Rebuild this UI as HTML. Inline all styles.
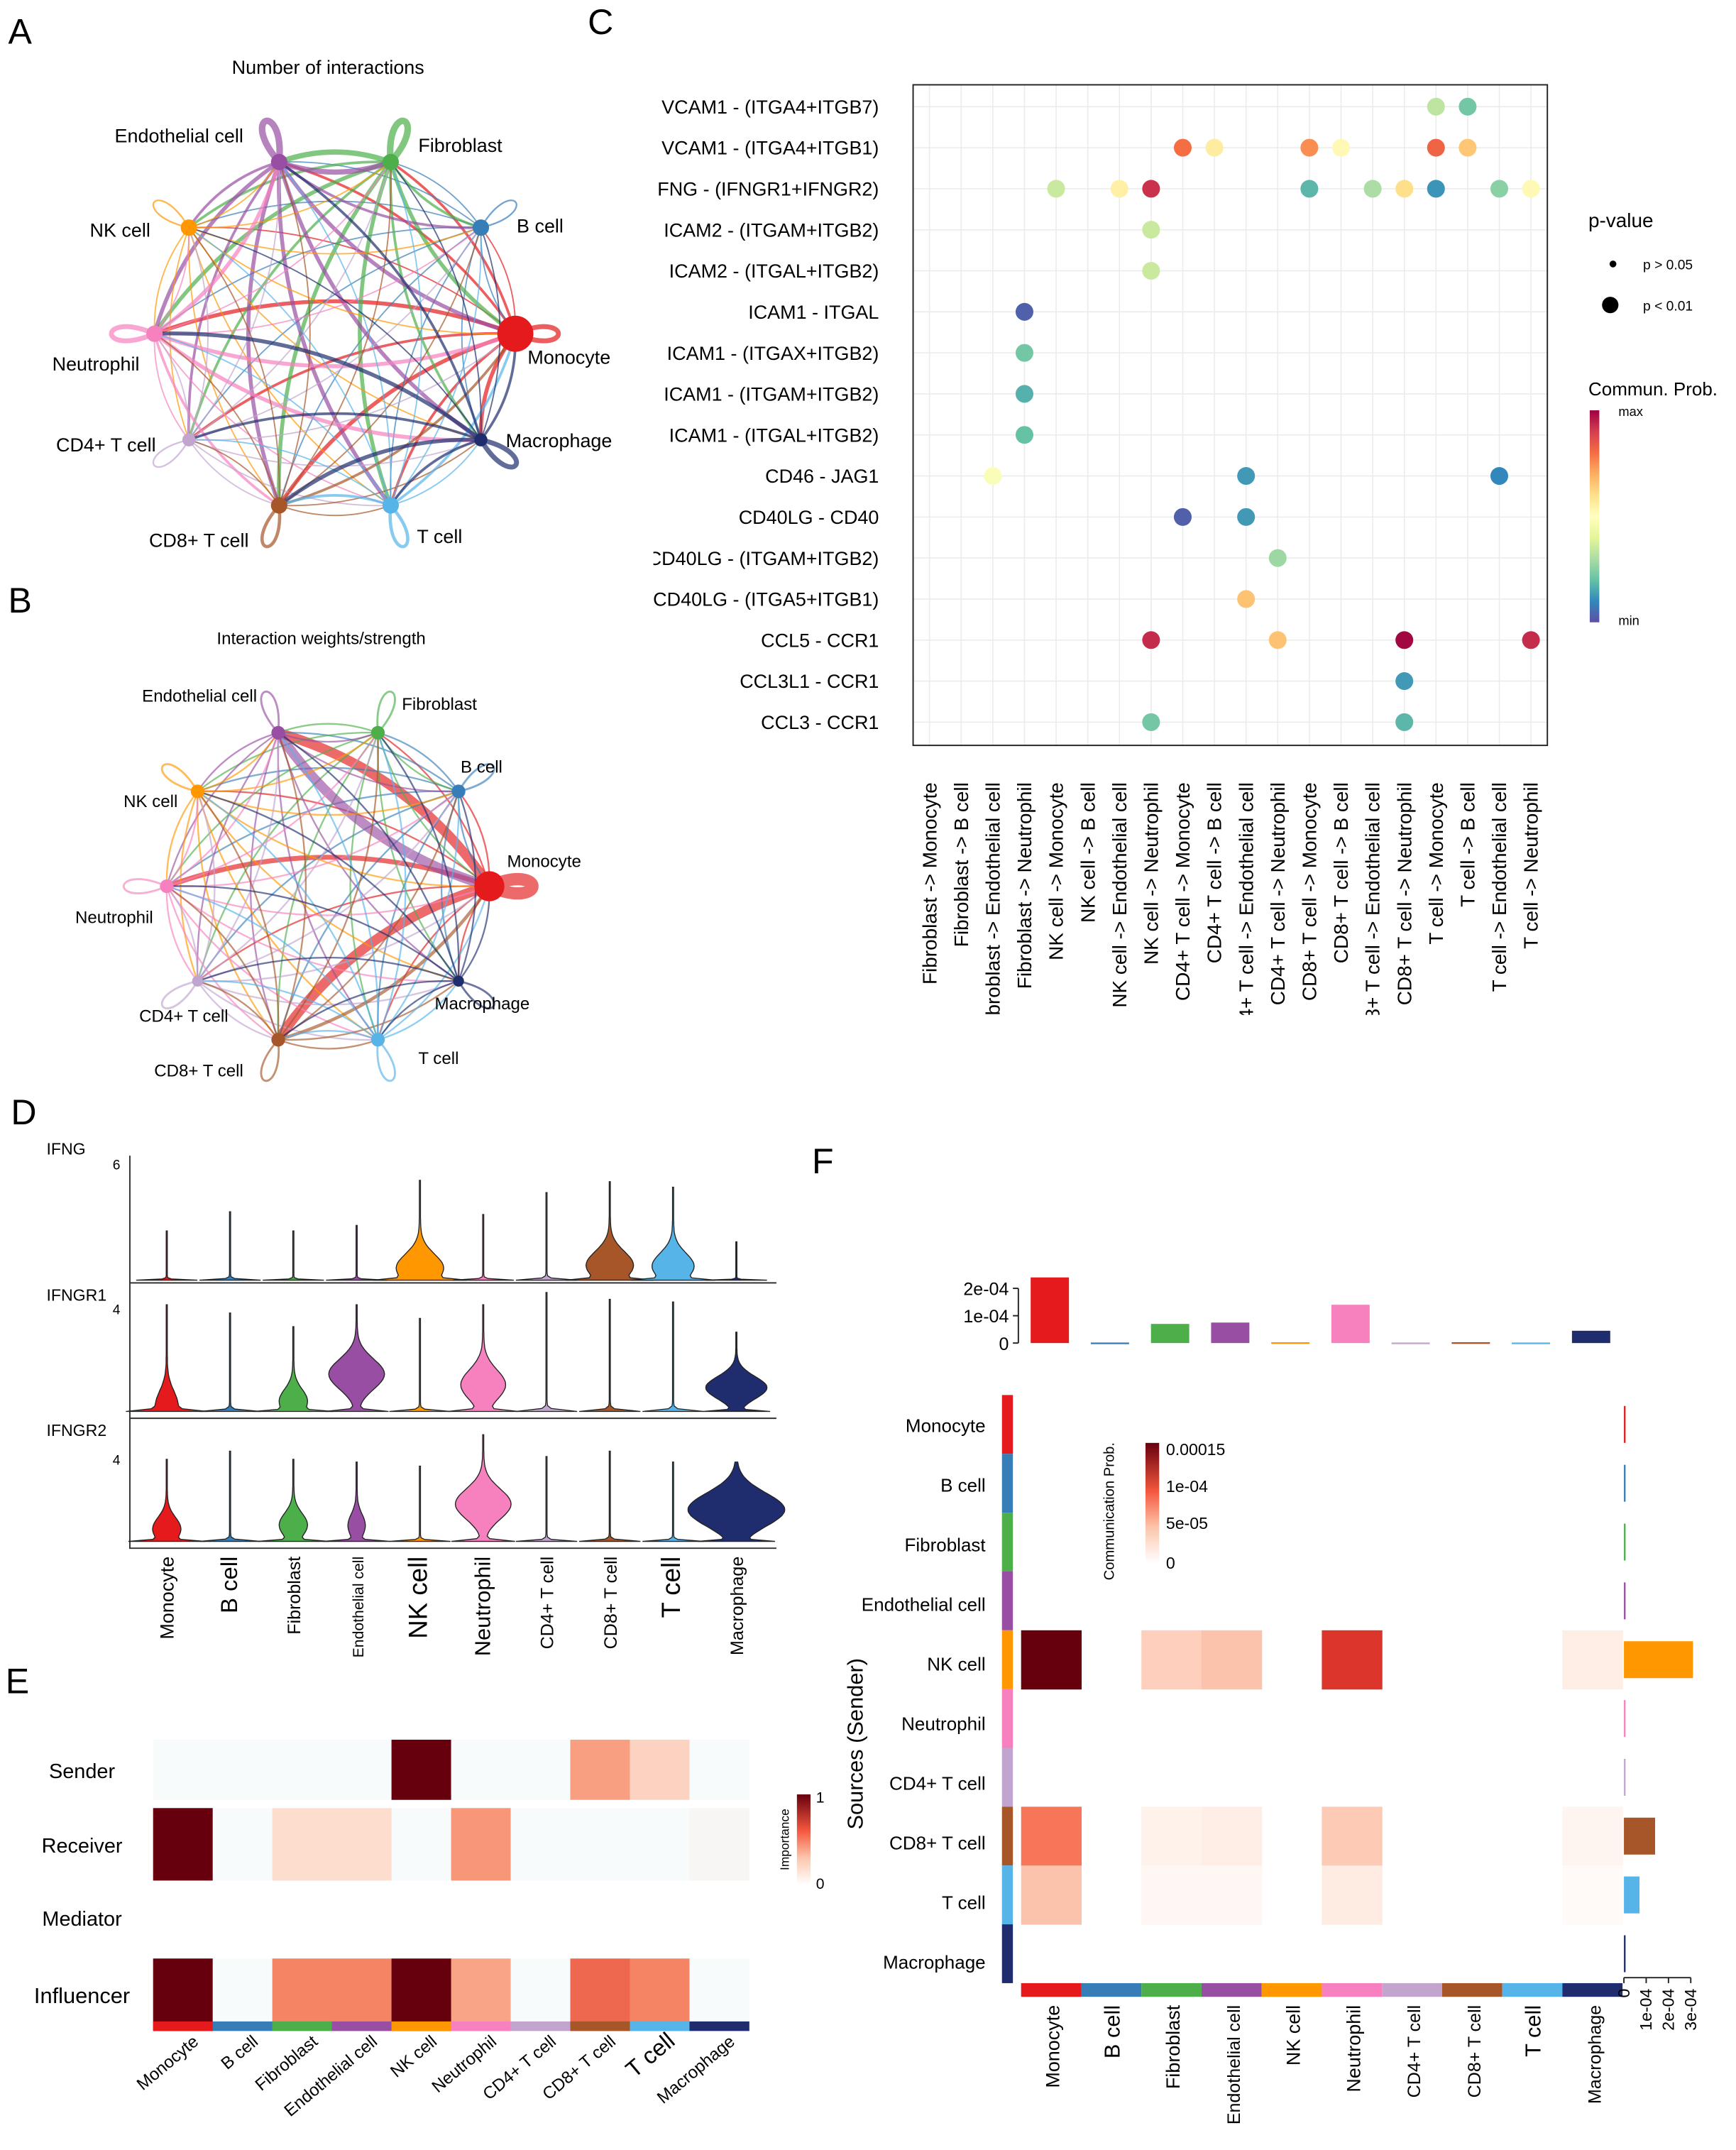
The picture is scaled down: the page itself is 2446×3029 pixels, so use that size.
<!DOCTYPE html>
<html><head><meta charset="utf-8"><style>
html,body{margin:0;padding:0;background:#fff;}
svg{display:block;font-family:"Liberation Sans",Arial,sans-serif;}
</style></head><body>
<svg id="fig" width="2446" height="3029" viewBox="0 0 1270 1572" preserveAspectRatio="none" xmlns="http://www.w3.org/2000/svg">
<defs>
<linearGradient id="specGrad" x1="0" y1="1" x2="0" y2="0">
<stop offset="0" stop-color="#5E4FA2"/><stop offset="0.1" stop-color="#3288BD"/><stop offset="0.2" stop-color="#66C2A5"/><stop offset="0.3" stop-color="#ABDDA4"/><stop offset="0.4" stop-color="#E6F598"/><stop offset="0.5" stop-color="#FFFFBF"/><stop offset="0.6" stop-color="#FEE08B"/><stop offset="0.7" stop-color="#FDAE61"/><stop offset="0.8" stop-color="#F46D43"/><stop offset="0.9" stop-color="#D53E4F"/><stop offset="1" stop-color="#9E0142"/>
</linearGradient>
<linearGradient id="redGrad" x1="0" y1="1" x2="0" y2="0">
<stop offset="0" stop-color="#FFFFFF"/><stop offset="0.3" stop-color="#FCC5AB"/><stop offset="0.6" stop-color="#F4573E"/><stop offset="1" stop-color="#67000D"/>
</linearGradient>
<clipPath id="clipCrow"><rect x="478" y="0" width="200" height="600"/></clipPath>
<clipPath id="clipCcol"><rect x="660" y="560" width="480" height="182"/></clipPath>
</defs>
<g id="root"></g>
</svg>
<script>
const NS='http://www.w3.org/2000/svg';
const root=document.getElementById('root');
function mk(tag,attrs,parent,txt){const e=document.createElementNS(NS,tag);for(const k in attrs)e.setAttribute(k,attrs[k]);(parent||root).appendChild(e);if(txt!==undefined)e.textContent=txt;return e;}

const cells=['Monocyte','B cell','Fibroblast','Endothelial cell','NK cell','Neutrophil','CD4+ T cell','CD8+ T cell','T cell','Macrophage'];
const cellColors=['#E41A1C','#377EB8','#4DAF4A','#984EA3','#FF9800','#F781BF','#C2A5CF','#A65628','#56B4E9','#1F2D6E'];

const letters=[['A',6,32],['B',6,448],['C',430,25],['D',8,822],['E',4,1238],['F',594,858]];
letters.forEach(l=>{const t=mk('text',{x:l[1],y:l[2],'font-size':26},root,l[0]);

});

// ===== Networks A & B =====
const angleDeg=[0,-36,-72,-108,216,180,144,108,72,36];
const netAcount=[
[3,1,2,2,1,3,2,3,2,3],[1,1,1,1,1,1,1,1,1,1],[3,2,4,4,2,3,2,3,3,2],[3,2,4,4,2,3,2,3,3,3],[1,1,1,1,1,1,1,1,1,1],[3,1,1,3,1,3,1,2,1,3],[1,1,1,1,1,1,1,1,1,1],[2,1,1,1,1,1,1,2,1,1],[2,1,1,1,1,1,1,2,2,1],[2,1,1,2,1,3,2,3,2,3]];
const netBweight=[
[6,1,1,6,1,3,1,6,1,1],[1,1,1,1,1,1,1,1,1,1],[1,1,1,1,1,1,1,1,1,1],[6,1,1,1,1,1,1,1,1,1],[1,1,1,1,1,1,1,1,1,1],[1,1,1,1,1,1,1,1,1,1],[1,1,1,1,1,1,1,1,1,1],[2,1,1,1,1,1,1,1,1,1],[1,1,1,1,1,1,1,1,1,1],[1,1,1,1,1,1,1,1,1,1]];
const labelsA=[[386,266,'start'],[378,170,'start'],[306,111,'start'],[178,104,'end'],[110,173,'end'],[102,271,'end'],[114,330,'end'],[182,400,'end'],[305,397,'start'],[370,327,'start']];
const labelsB=[[371,634,'start'],[337,565,'start'],[294,519,'start'],[188,513,'end'],[130,590,'end'],[112,675,'end'],[167,747,'end'],[178,787,'end'],[306,778,'start'],[318,738,'start']];
function drawNet(cx,cy,R,mat,scale,labels,title,ty,fs,nodeR,id,opac){
  const g=mk('g',{},root);
  
  
  const t=mk('text',{x:cx-5,y:ty,'font-size':fs,'text-anchor':'middle'},g,title);
  
  
  const pos=angleDeg.map(a=>[cx+R*Math.cos(a*Math.PI/180),cy+R*Math.sin(a*Math.PI/180)]);
  for(let i=0;i<10;i++)for(let j=0;j<10;j++){
    const w=mat[i][j]*scale;const [x1,y1]=pos[i];
    if(i===j){const dx=x1-cx,dy=y1-cy,L=Math.hypot(dx,dy),ux=dx/L,uy=dy/L,px=-uy,py=ux;const d=42,s=18;
      const p=mk('path',{d:`M${x1},${y1} C${x1+ux*d+px*s},${y1+uy*d+py*s} ${x1+ux*d-px*s},${y1+uy*d-py*s} ${x1},${y1}`,fill:'none',stroke:cellColors[i],'stroke-width':Math.max(0.6,w),'stroke-opacity':opac},g);
      
      continue;}
    const [x2,y2]=pos[j];const mx=(x1+x2)/2,my=(y1+y2)/2;const dx=x2-x1,dy=y2-y1;
    const kx=mx-dy*0.18,ky=my+dx*0.18;
    const p=mk('path',{d:`M${x1},${y1} Q${kx},${ky} ${x2},${y2}`,fill:'none',stroke:cellColors[i],'stroke-width':Math.max(0.4,w*0.8),'stroke-opacity':opac},g);
    
    
  }
  pos.forEach((p,i)=>{const c=mk('circle',{cx:p[0],cy:p[1],r:i===0?nodeR*2.2:(i===6||i===9?nodeR*0.8:nodeR),fill:cellColors[i]},g);
    
    
    const l=labels[i];const tx=mk('text',{x:l[0],y:l[1],'font-size':fs,'text-anchor':l[2]},g,cells[i]);
    
    });
}
drawNet(245,244,132,netAcount,1.2,labelsA,'Number of interactions',54,14,6,'a',0.7);
drawNet(240,648,118,netBweight,1.5,labelsB,'Interaction weights/strength',471,12.5,5,'b',0.65);

// ===== Panel C dot plot =====
const cRows=['VCAM1 - (ITGA4+ITGB7)','VCAM1 - (ITGA4+ITGB1)','FNG - (IFNGR1+IFNGR2)','ICAM2 - (ITGAM+ITGB2)','ICAM2 - (ITGAL+ITGB2)','ICAM1 - ITGAL','ICAM1 - (ITGAX+ITGB2)','ICAM1 - (ITGAM+ITGB2)','ICAM1 - (ITGAL+ITGB2)','CD46 - JAG1','CD40LG - CD40','CD40LG - (ITGAM+ITGB2)','CD40LG - (ITGA5+ITGB1)','CCL5 - CCR1','CCL3L1 - CCR1','CCL3 - CCR1'];
const cCols=['Fibroblast -> Monocyte','Fibroblast -> B cell','Fibroblast -> Endothelial cell','Fibroblast -> Neutrophil','NK cell -> Monocyte','NK cell -> B cell','NK cell -> Endothelial cell','NK cell -> Neutrophil','CD4+ T cell -> Monocyte','CD4+ T cell -> B cell','CD4+ T cell -> Endothelial cell','CD4+ T cell -> Neutrophil','CD8+ T cell -> Monocyte','CD8+ T cell -> B cell','CD8+ T cell -> Endothelial cell','CD8+ T cell -> Neutrophil','T cell -> Monocyte','T cell -> B cell','T cell -> Endothelial cell','T cell -> Neutrophil'];
const dotRow=[0,0,1,1,1,1,1,1,2,2,2,2,2,2,2,2,2,3,4,5,6,7,8,9,9,9,10,10,11,12,13,13,13,13,14,15,15];
const dotCol=[16,17,8,9,12,13,16,17,4,6,7,12,14,15,16,18,19,7,7,3,3,3,3,2,10,18,8,10,11,10,7,11,15,19,15,7,15];
const dotProb=[0.33,0.22,0.8,0.56,0.75,0.52,0.82,0.65,0.35,0.55,0.92,0.18,0.3,0.6,0.12,0.25,0.52,0.35,0.35,0.03,0.22,0.17,0.2,0.48,0.13,0.1,0.03,0.13,0.28,0.66,0.93,0.66,0.99,0.93,0.13,0.22,0.18];
const spec=['#5E4FA2','#3288BD','#66C2A5','#ABDDA4','#E6F598','#FFFFBF','#FEE08B','#FDAE61','#F46D43','#D53E4F','#9E0142'];
function hex2(c){return [1,3,5].map(i=>parseInt(c.substr(i,2),16));}
function cmap(stops,v){v=Math.max(0,Math.min(1,v));const f=v*(stops.length-1),i=Math.min(stops.length-2,Math.floor(f)),t=f-i;const a=hex2(stops[i]),b=hex2(stops[i+1]);return 'rgb('+a.map((x,k)=>Math.round(x+(b[k]-x)*t)).join(',')+')';}
const cX0=668,cX1=1132,cY0=62,cY1=545;
const cxs=i=>680+i*(1120-680)/19, cys=r=>78+r*30;
const gC=mk('g',{},root);


for(let i=0;i<20;i++){const l=mk('line',{x1:cxs(i),x2:cxs(i),y1:cY0,y2:cY1,stroke:'#EBEBEB','stroke-width':0.8},gC);

}
for(let r=0;r<16;r++){const l=mk('line',{x1:cX0,x2:cX1,y1:cys(r),y2:cys(r),stroke:'#EBEBEB','stroke-width':0.8},gC);

}
const cf=mk('rect',{x:cX0,y:cY0,width:cX1-cX0,height:cY1-cY0,fill:'none',stroke:'#222','stroke-width':1},gC);


const gRowL=mk('g',{'clip-path':'url(#clipCrow)'},gC);
cRows.forEach((t,r)=>{const e=mk('text',{x:643,y:cys(r)+5,'font-size':14,'text-anchor':'end'},gRowL,t);

});
const gColL=mk('g',{'clip-path':'url(#clipCcol)'},gC);
cCols.forEach((t,i)=>{const x=cxs(i)+5,y=572;const e=mk('text',{x:x,y:y,'font-size':14.5,'text-anchor':'end',transform:`rotate(-90 ${x} ${y})`},gColL,t);

});
dotRow.forEach((r,k)=>{const c=mk('circle',{cx:cxs(dotCol[k]),cy:cys(r),r:6.5,fill:cmap(spec,dotProb[k])},gC);

});
[['p-value',1162,166,14.5],['p > 0.05',1202,197,10],['p < 0.01',1202,227,10],['Commun. Prob.',1162,289,13.5],['max',1184,304,9.5],['min',1184,457,9.5]].forEach(a=>{const e=mk('text',{x:a[1],y:a[2],'font-size':a[3]},gC,a[0]);

});
let e1=mk('circle',{cx:1180,cy:193,r:2.5,fill:'#000'},gC);


e1=mk('circle',{cx:1178,cy:223,r:6,fill:'#000'},gC);


e1=mk('rect',{x:1163,y:300,width:7,height:155,fill:'url(#specGrad)'},gC);



// ===== Panel D violins =====
const gD=mk('g',{},root);


const vGenes=['IFNG','IFNGR1','IFNGR2'];
const vBase=[936,1032,1127];
const vTop=[845,940,1039];
const vTick=['6','4','4'];
const vTickY=[851,957,1067];
const vHeight=[[36,50,36,40,73,48,64,72,68,28],[78,72,62,78,68,78,87,82,80,58],[60,66,60,58,55,78,62,66,58,58]];
const vBulge=[[0,0,0,0,17,0,0,17,15,0],[8,0,10,20,0,16,0,0,0,22],[10,0,10,6,0,20,0,0,0,35]];
const vCenter=[[0,0,0,0,0.12,0,0,0.15,0.15,0],[0.05,0,0.12,0.35,0,0.25,0,0,0,0.3],[0.15,0,0.2,0.2,0,0.35,0,0,0,0.4]];
const vx=i=>122+i*46.3;
const fr=mk('path',{d:'M95,845 L95,1132 L568,1132 M95,938 L568,938 M95,1037 L568,1037',fill:'none',stroke:'#333','stroke-width':1},gD);


vGenes.forEach((gname,gi)=>{
  let t=mk('text',{x:34,y:vTop[gi]-1+(gi?12:0),'font-size':12},gD,gname);
  
  
  t=mk('text',{x:88,y:vTickY[gi]+4,'font-size':10,'text-anchor':'end'},gD,vTick[gi]);
  
  
  cells.forEach((c,i)=>{
    const H=vHeight[gi][i],b=vBulge[gi][i],cc=vCenter[gi][i],s=(gi===2&&i===9)?0.3:0.2,x=vx(i),y0=vBase[gi];
    const L=[],Rr=[];
    for(let k=0;k<=40;k++){const tt=k/40;let hw=22*Math.exp(-tt*80)+b*Math.exp(-Math.pow((tt-cc)/s,2))+0.4;L.push([x-hw,y0-tt*H]);Rr.push([x+hw,y0-tt*H]);}
    const pts=L.concat(Rr.reverse());
    const p=mk('path',{d:'M'+pts.map(q=>q[0].toFixed(1)+','+q[1].toFixed(1)).join(' L')+'Z',fill:cellColors[i],stroke:'#222','stroke-width':0.7},gD);
    
    
  });
});
const dFont=[14,17,13,11,19,16,13,13,19,13];
cells.forEach((c,i)=>{const x=vx(i)+5,y=1138;const t=mk('text',{x:x,y:y,'font-size':dFont[i],'text-anchor':'end',transform:`rotate(-90 ${x} ${y})`},gD,c);

});

// ===== Panel E heatmap =====
const gE=mk('g',{},root);


const redStops=['#F7FBFC','#FDE1D2','#FBB69A','#F68A6A','#EB5A44','#C01A1C','#67000D'];
const eRows=['Sender','Receiver','Mediator','Influencer'];
const eRowY=[1272,1322,1378,1432];
const eRowH=[44,53,48,53];
const eVals=[[0,0,0,0,1,0,0,0.42,0.22,0],[1,0,0.18,0.18,0,0.45,0,0,0,0.03],[null,null,null,null,null,null,null,null,null,null],[1,0,0.52,0.52,1,0.4,0,0.62,0.52,0]];
const ex=i=>112+i*43.6;
eRows.forEach((rn,r)=>{
  let t=mk('text',{x:60,y:eRowY[r]+eRowH[r]/2+6,'font-size':r===3?16:15,'text-anchor':'middle'},gE,rn);
  
  
  eVals[r].forEach((v,i)=>{if(v===null)return;const c=mk('rect',{x:ex(i),y:eRowY[r],width:43.8,height:eRowH[r],fill:cmap(redStops,v)},gE);
  
  });
});
cells.forEach((c,i)=>{let r=mk('rect',{x:ex(i),y:1478,width:43.8,height:7,fill:cellColors[i]},gE);


const x=ex(i)+34,y=1494;const t=mk('text',{x:x,y:y,'font-size':i===8?17:12.5,'text-anchor':'end',transform:`rotate(-40 ${x} ${y})`},gE,c);

});
e1=mk('rect',{x:583,y:1312,width:10,height:66,fill:'url(#redGrad)'},gE);


[['1',597,1318],['0',597,1381]].forEach(a=>{const t=mk('text',{x:a[1],y:a[2],'font-size':11},gE,a[0]);

});
e1=mk('text',{x:577,y:1345,'font-size':9,'text-anchor':'middle',transform:'rotate(-90 577 1345)'},gE,'Importance');



// ===== Panel F =====
const gF=mk('g',{},root);


const fTopVals=[2.4e-4,0.02e-4,0.7e-4,0.75e-4,0.03e-4,1.4e-4,0.02e-4,0.03e-4,0.02e-4,0.45e-4];
const fTopTicks=[0,1e-4,2e-4];
const fTopTickLabels=['0','1e-04','2e-04'];
const fRightVals=[0.02e-4,0.01e-4,0.01e-4,0.01e-4,3.1e-4,0.01e-4,0.01e-4,1.4e-4,0.7e-4,0.01e-4];
const fRightTicks=[0,1e-4,2e-4,3e-4];
const fRightTickLabels=['0','1e-04','2e-04','3e-04'];
const fMat=[
[0,0,0,0,0,0,0,0,0,0],[0,0,0,0,0,0,0,0,0,0],[0,0,0,0,0,0,0,0,0,0],[0,0,0,0,0,0,0,0,0,0],
[1,0,0.25,0.3,0,0.72,0,0,0,0.1],[0,0,0,0,0,0,0,0,0,0],[0,0,0,0,0,0,0,0,0,0],
[0.55,0,0.08,0.1,0,0.27,0,0,0,0.06],[0.3,0,0.05,0.05,0,0.12,0,0,0,0.03],[0,0,0,0,0,0,0,0,0,0]];
const fStops=['#FFFFFF','#FDE3D6','#FCBBA1','#FB8A6A','#EF4533','#B5121B','#67000D'];
const fx=i=>747+i*44, fy=r=>1020+r*43;
const topY=v=>982-v/1e-4*20;
const rightX=v=>1188+v/1e-4*16.3;
fTopVals.forEach((v,i)=>{const r=mk('rect',{x:fx(i)+7,y:topY(v),width:28,height:Math.max(1.2,982-topY(v)),fill:cellColors[i]},gF);

});
e1=mk('line',{x1:745,x2:745,y1:topY(2e-4),y2:982,stroke:'#222','stroke-width':1},gF);


fTopTicks.forEach((v,k)=>{let l=mk('line',{x1:741,x2:745,y1:topY(v),y2:topY(v),stroke:'#222'},gF);


const t=mk('text',{x:738,y:topY(v)+5,'font-size':13,'text-anchor':'end'},gF,fTopTickLabels[k]);

});
cells.forEach((c,r)=>{
  let b=mk('rect',{x:733,y:fy(r),width:8,height:43,fill:cellColors[r]},gF);
  
  
  b=mk('rect',{x:fx(r),y:1450,width:44,height:10,fill:cellColors[r]},gF);
  
  
  const t=mk('text',{x:721,y:fy(r)+r*0.6+27,'font-size':13.5,'text-anchor':'end'},gF,c);
  
  
  const x=fx(r)+28,y=1466;const t2=mk('text',{x:x,y:y,'font-size':[14,16,14,13,14,14,13,13,16,13][r],'text-anchor':'end',transform:`rotate(-90 ${x} ${y})`},gF,c);
  
  
  fMat[r].forEach((v,i)=>{if(v<=0)return;const cell=mk('rect',{x:fx(i),y:fy(r),width:44.3,height:43.3,fill:cmap(fStops,v)},gF);
  
  });
  const w=rightX(fRightVals[r])-1188;
  const rb=mk('rect',{x:1188,y:fy(r)+8,width:Math.max(1.2,w),height:27,fill:cellColors[r]},gF);
  
  
});
e1=mk('line',{x1:1188,x2:rightX(3e-4),y1:1446,y2:1446,stroke:'#222'},gF);


fRightTicks.forEach((v,k)=>{const x=rightX(v);let l=mk('line',{x1:x,x2:x,y1:1446,y2:1450,stroke:'#222'},gF);


const t=mk('text',{x:x+4,y:1454,'font-size':12,'text-anchor':'end',transform:`rotate(-90 ${x+4} 1454)`},gF,fRightTickLabels[k]);

});
e1=mk('text',{x:631,y:1275,'font-size':16,'text-anchor':'middle',transform:'rotate(-90 631 1275)'},gF,'Sources (Sender)');


e1=mk('rect',{x:838,y:1055,width:10,height:88,fill:'url(#redGrad)'},gF);


[['0.00015',853,1064],['1e-04',853,1091],['5e-05',853,1118],['0',853,1147]].forEach(a=>{const t=mk('text',{x:a[1],y:a[2],'font-size':12},gF,a[0]);

});
e1=mk('text',{x:815,y:1105,'font-size':10.5,'text-anchor':'middle',transform:'rotate(-90 815 1105)'},gF,'Communication Prob.');


</script>
</body></html>
